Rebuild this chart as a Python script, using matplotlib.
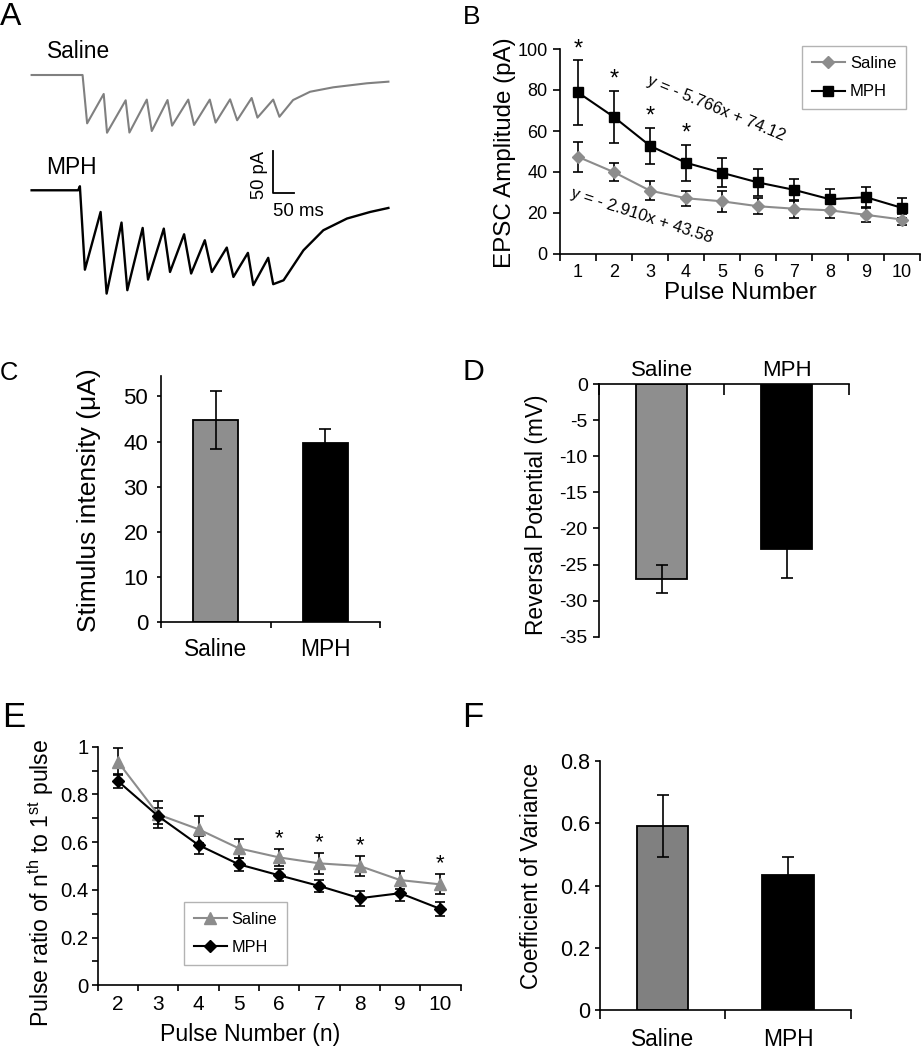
import numpy as np
import matplotlib
matplotlib.use("Agg")
import matplotlib.pyplot as plt
from matplotlib.lines import Line2D

plt.rcParams['font.family'] = ['Liberation Sans', 'DejaVu Sans']
plt.rcParams['mathtext.fontset'] = 'custom'
plt.rcParams['mathtext.rm'] = 'Liberation Sans'
plt.rcParams['axes.unicode_minus'] = False

# ---------------- data ---------------- #
# A: example EPSC traces, vertices (time in ms, current in pA)
saline_t = [-123, 0, 11, 51, 59, 104, 113, 155, 167, 205, 216, 255, 269, 307, 321, 356, 373,
            408, 422, 460, 475, 508, 549, 605, 686, 738]
saline_i = [0, 0, -56.6, -22.2, -67.6, -29.6, -67.4, -28.8, -65.6, -29.3, -59.3, -28.8, -58.5,
            -28.8, -55.7, -28.5, -53.0, -26.9, -49.9, -28.8, -48.9, -29.3, -19.6, -14.4, -9.7, -7.8]
mph_t = [-123, -10.6, -6.5, 5.6, 43.5, 58, 94, 108, 145, 158, 196, 211, 245, 262, 295, 312, 348,
         364, 399, 412, 448, 460, 485, 533, 581, 638, 694, 738]
mph_i = [0, 0, 4.7, -93, -25.4, -121, -37.8, -117, -44.1, -104.6, -44.9, -95.7, -51.5, -97.5,
         -58.5, -95.7, -67.1, -101.5, -73.3, -111.1, -79.1, -110, -105.4, -70.3, -46.8, -33.1,
         -25.4, -20.7]
trace_offset = 135  # vertical display offset of the MPH trace (pA)

# B: EPSC amplitude per pulse
pulses = np.arange(1, 11)
saline_amp = [47.4, 39.9, 30.9, 27.2, 25.7, 23.3, 22.1, 21.3, 19.1, 16.8]
saline_amp_err = [7.3, 4.4, 4.6, 3.7, 5.0, 3.9, 4.3, 3.5, 3.5, 2.8]
mph_amp = [78.8, 66.8, 52.8, 44.5, 39.6, 34.9, 31.3, 26.7, 27.7, 22.5]
mph_amp_err = [15.7, 12.7, 8.8, 8.9, 7.0, 6.5, 5.5, 5.2, 4.9, 4.9]
amp_sig = [1, 2, 3, 4]

groups = ['Saline', 'MPH']
# C: stimulus intensity
stim = [44.8, 39.6]
stim_err = [6.5, 3.3]
# D: reversal potential
rev_pot = [-27.0, -22.9]
rev_pot_err = [1.9, 4.0]
# F: coefficient of variance
cv = [0.591, 0.434]
cv_err = [0.10, 0.058]

# E: pulse ratio n-th / 1st
pulse_n = np.arange(2, 11)
saline_ratio = [0.937, 0.716, 0.654, 0.574, 0.536, 0.511, 0.500, 0.441, 0.423]
saline_ratio_err = [0.056, 0.058, 0.056, 0.040, 0.035, 0.043, 0.042, 0.039, 0.042]
mph_ratio = [0.856, 0.709, 0.588, 0.507, 0.461, 0.416, 0.365, 0.386, 0.320]
mph_ratio_err = [0.028, 0.035, 0.038, 0.028, 0.025, 0.025, 0.032, 0.034, 0.031]
ratio_sig = [6, 7, 8, 10]

# ---------------- layout helpers ---------------- #
W, H = 921, 1050
fig = plt.figure(figsize=(W / 100, H / 100), dpi=100)

GRAY_LINE = '#8c8c8c'
GRAY_BAR = '#8e8e8e'


def px_axes(left, top, right, bottom):
    return fig.add_axes([left / W, 1 - bottom / H, (right - left) / W, (bottom - top) / H])


def fig_text(x, y, s, **kw):
    fig.text(x / W, 1 - y / H, s, **kw)


def clean(ax, lw=1.2):
    for side in ['top', 'right']:
        ax.spines[side].set_visible(False)
    for side in ['left', 'bottom', 'top']:
        ax.spines[side].set_linewidth(lw)


def category_ticks(ax, centers, labels, size, pad, length, direction='out'):
    edges = np.arange(centers[0] - 0.5, centers[-1] + 1, 1)
    ax.set_xlim(edges[0], edges[-1])
    ax.set_xticks(edges)
    ax.set_xticklabels([])
    ax.set_xticks(centers, minor=True)
    ax.set_xticklabels(labels, minor=True)
    ax.tick_params(axis='x', which='major', direction=direction, length=length, width=1.2)
    ax.tick_params(axis='x', which='minor', length=0, labelsize=size, pad=pad)


# ---------------- A ---------------- #
axA = px_axes(20, 40, 400, 300)
axA.plot(saline_t, saline_i, color='#808080', lw=1.5)
axA.plot(mph_t, np.array(mph_i) - trace_offset, color='black', lw=1.7)
axA.plot([459, 459, 509], [-88.5, -138.5, -138.5], color='black', lw=1.3)
axA.text(426, -117, '50 pA', rotation=90, ha='center', va='center', fontsize=13.2)
axA.text(520, -160, '50 ms', ha='center', va='center', fontsize=13.4)
axA.text(-87, 27, 'Saline', ha='left', va='center', fontsize=16.4)
axA.text(-87, -108, 'MPH', ha='left', va='center', fontsize=16.4)
axA.set_xlim(-151, 766)
axA.set_ylim(-263.5, 41)
axA.axis('off')

# ---------------- B ---------------- #
axB = px_axes(560, 49, 920, 254)
ekw = dict(ecolor='black', elinewidth=1.2, capsize=3.5, capthick=1.2)
axB.errorbar(pulses, saline_amp, yerr=saline_amp_err, color=GRAY_LINE, marker='D', ms=6,
             lw=1.5, **ekw)
axB.errorbar(pulses, mph_amp, yerr=mph_amp_err, color='black', marker='s', ms=6.5, lw=1.5, **ekw)
for p in amp_sig:
    axB.text(p, mph_amp[p - 1] + mph_amp_err[p - 1], '*', ha='center', va='bottom', fontsize=17)
axB.text(4.85, 71.1, 'y = - 5.766x + 74.12', rotation=-22.5, rotation_mode='anchor',
         ha='center', va='center', fontsize=12)
axB.text(2.78, 18.7, 'y = - 2.910x + 43.58', rotation=-18, rotation_mode='anchor',
         ha='center', va='center', fontsize=12)
clean(axB)
category_ticks(axB, pulses, [str(p) for p in pulses], 13, 7, 5)
axB.set_ylim(0, 100)
axB.set_yticks(np.arange(0, 101, 20))
axB.tick_params(axis='y', direction='out', length=5, width=1.2, labelsize=13, pad=4)
legB = axB.legend([Line2D([], [], color=GRAY_LINE, marker='D', ms=6, lw=1.5),
                   Line2D([], [], color='black', marker='s', ms=6.5, lw=1.5)],
                  groups, loc='upper left', bbox_to_anchor=(801.7 / W, 1 - 46 / H),
                  bbox_transform=fig.transFigure, borderaxespad=0, fancybox=False,
                  fontsize=12, labelspacing=0.8, borderpad=0.6, handlelength=2.0,
                  handletextpad=0.3)
legB.get_frame().set_edgecolor('#a0a0a0')
legB.get_frame().set_linewidth(1.0)
fig_text(505, 153, 'EPSC Amplitude (pA)', rotation=90, ha='center', va='center', fontsize=17.4)
fig_text(740, 293, 'Pulse Number', ha='center', va='center', fontsize=17.4)

bar_kw = dict(width=0.41, edgecolor='black', linewidth=1.3,
              error_kw=dict(ecolor='black', elinewidth=1.2, capsize=4, capthick=1.2))

# ---------------- C ---------------- #
axC = px_axes(161, 375.7, 380, 622.3)
axC.bar([1, 2], stim, yerr=stim_err, color=[GRAY_BAR, 'black'], **bar_kw)
clean(axC)
category_ticks(axC, [1, 2], groups, 16.4, 11, 4.3)
axC.set_ylim(0, 54.6)
axC.set_yticks(np.arange(0, 51, 10))
axC.tick_params(axis='y', direction='out', length=3.2, width=1.2, labelsize=16, pad=6)
fig_text(89, 500, 'Stimulus intensity (\u03bcA)', rotation=90, ha='center', va='center',
         fontsize=19)

# ---------------- D ---------------- #
axD = px_axes(599.3, 384, 849.3, 636.7)
axD.bar([1, 2], rev_pot, yerr=rev_pot_err, color=[GRAY_BAR, 'black'], **bar_kw)
axD.spines['bottom'].set_visible(False)
axD.spines['right'].set_visible(False)
axD.spines['left'].set_linewidth(1.2)
axD.spines['top'].set_linewidth(1.2)
axD.xaxis.set_ticks_position('top')
category_ticks(axD, [1, 2], groups, 16, 2, 8, direction='in')
axD.tick_params(axis='x', which='both', top=True, bottom=False, labeltop=True, labelbottom=False)
axD.set_ylim(-35, 0)
yt = np.arange(0, -36, -5)
axD.set_yticks(yt)
axD.set_yticklabels([str(v) for v in yt])
axD.tick_params(axis='y', direction='out', length=4.3, width=1.2, labelsize=14, pad=4)
fig_text(536, 515, 'Reversal Potential (mV)', rotation=90, ha='center', va='center',
         fontsize=16.4)

# ---------------- E ---------------- #
axE = px_axes(97.7, 746.7, 460.6, 985.3)
axE.errorbar(pulse_n, saline_ratio, yerr=saline_ratio_err, color=GRAY_LINE, marker='^', ms=8,
             lw=1.5, **ekw)
axE.errorbar(pulse_n, mph_ratio, yerr=mph_ratio_err, color='black', marker='D', ms=6.5,
             lw=1.5, **ekw)
for n in ratio_sig:
    i = n - 2
    axE.text(n, saline_ratio[i] + saline_ratio_err[i], '*', ha='center', va='bottom',
             fontsize=16)
clean(axE)
category_ticks(axE, pulse_n, [str(n) for n in pulse_n], 15, 7, 4.3)
axE.set_ylim(0, 1)
yt = np.round(np.arange(0, 1.01, 0.2), 1)
axE.set_yticks(yt)
axE.set_yticklabels(['0', '0.2', '0.4', '0.6', '0.8', '1'])
axE.set_yticks(np.arange(0.1, 1.0, 0.2), minor=True)
axE.tick_params(axis='y', which='both', direction='out', length=4.3, width=1.2, labelsize=14.7,
                pad=2.5)
legE = axE.legend([Line2D([], [], color=GRAY_LINE, marker='^', ms=8, lw=1.5),
                   Line2D([], [], color='black', marker='D', ms=6.5, lw=1.5)],
                  groups, loc='upper left', bbox_to_anchor=(184.3 / W, 1 - 902.3 / H),
                  bbox_transform=fig.transFigure, borderaxespad=0, fancybox=False,
                  fontsize=11.7, labelspacing=0.8, borderpad=0.6, handlelength=2.0,
                  handletextpad=0.3)
legE.get_frame().set_edgecolor('#a0a0a0')
legE.get_frame().set_linewidth(1.0)
fig_text(41, 883, 'Pulse ratio of n$^{\\mathrm{th}}$ to 1$^{\\mathrm{st}}$ pulse', rotation=90,
         ha='center', va='center', fontsize=16.6)
fig_text(250, 1034, 'Pulse Number (n)', ha='center', va='center', fontsize=16.6)

# ---------------- F ---------------- #
axF = px_axes(600, 761, 850.7, 1010)
axF.bar([1, 2], cv, yerr=cv_err, color=['#808080', 'black'], **bar_kw)
clean(axF)
category_ticks(axF, [1, 2], groups, 16.4, 12.6, 6.5)
axF.set_ylim(0, 0.8)
axF.set_yticks([0, 0.2, 0.4, 0.6, 0.8])
axF.set_yticklabels(['0', '0.2', '0.4', '0.6', '0.8'])
axF.tick_params(axis='y', direction='out', length=3.6, width=1.2, labelsize=15.5, pad=3.6)
fig_text(531.5, 876, 'Coefficient of Variance', rotation=90, ha='center', va='center',
         fontsize=16.3)

# ---------------- panel letters ---------------- #
for letter, x, y, size in [('A', 0, 25, 23), ('B', 463, 24, 19), ('C', 0, 380, 18.4),
                           ('D', 462, 380, 21.8), ('E', 2, 727, 25), ('F', 462, 727, 25)]:
    fig_text(x, y, letter, ha='left', va='baseline', fontsize=size)

fig.savefig('out.png', dpi=100)
